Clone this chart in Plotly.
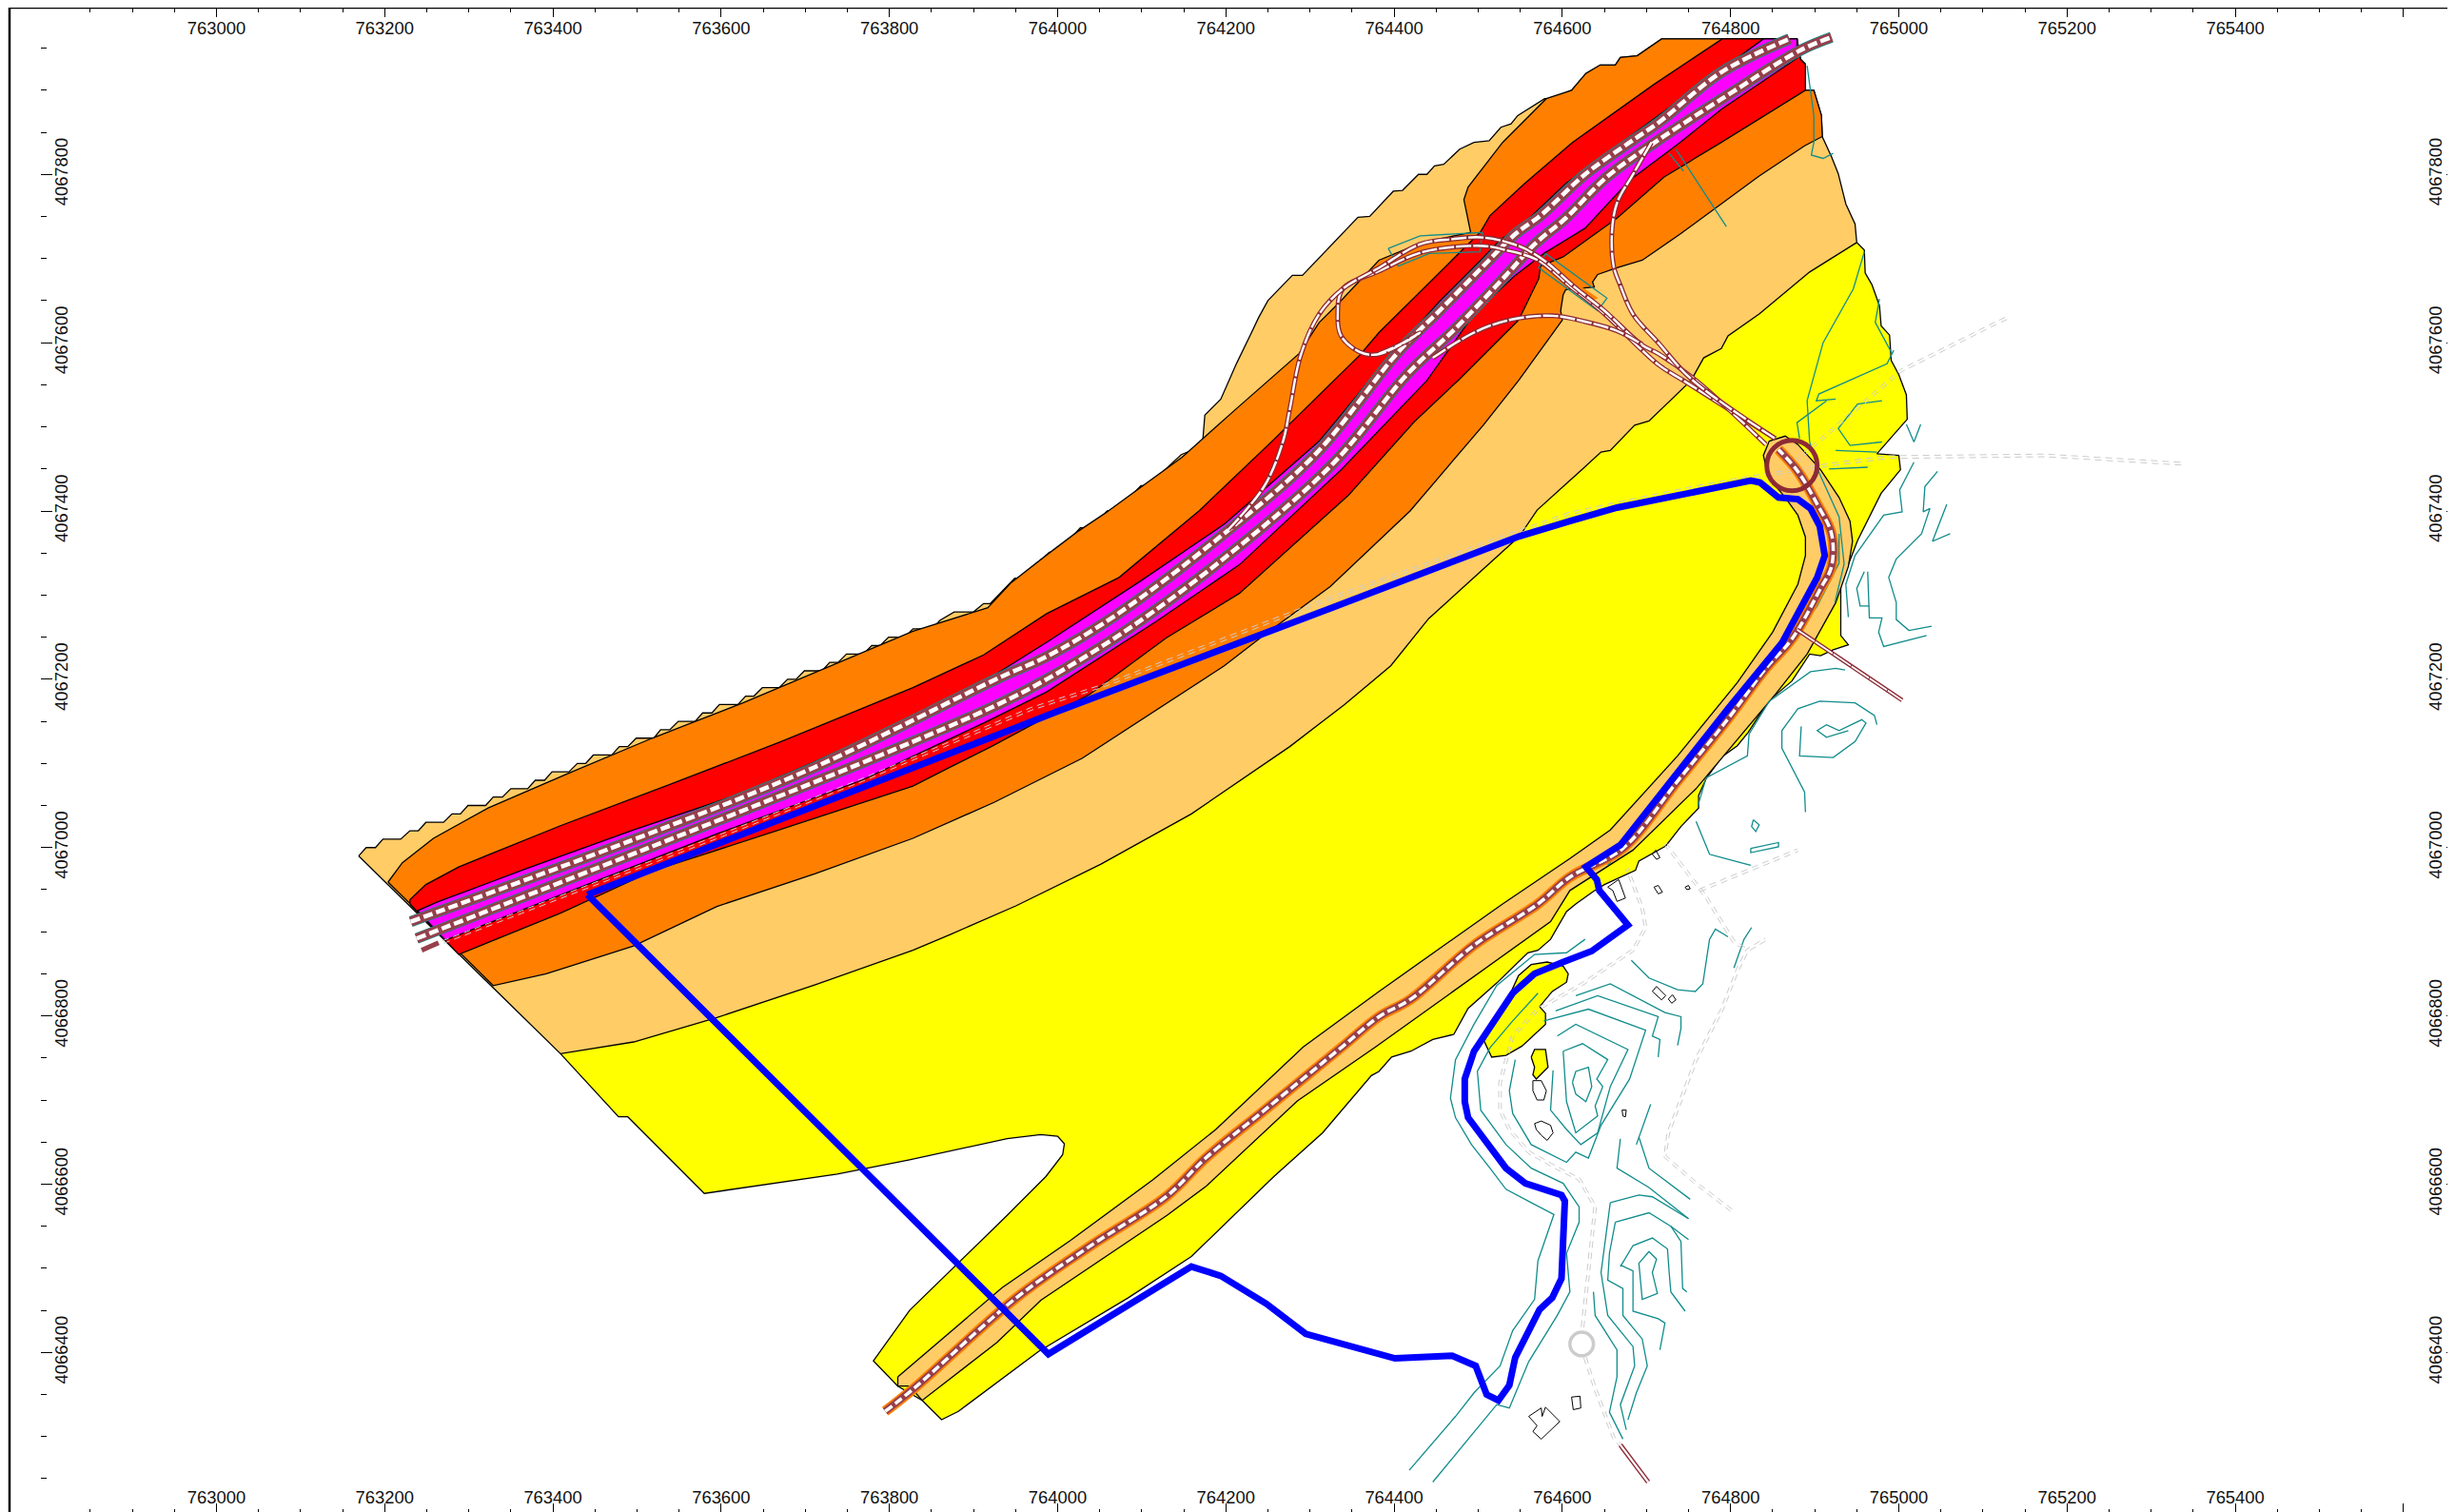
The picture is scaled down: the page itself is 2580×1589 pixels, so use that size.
import numpy as np
import plotly.graph_objects as go

# Survey coordinates are stored as (easting - E0, northing - N0) in metres
E0 = 763000
N0 = 4066000

X_MAJOR = [763000 + 200 * i for i in range(14)]
X_LABELS = [str(v) for v in X_MAJOR[:-1]] + [""]
Y_MAJOR = [4066400 + 200 * i for i in range(8)]
Y_LABELS = [str(v) for v in Y_MAJOR]
X_MINOR = [v for v in range(762850, 765600, 50) if v % 200 != 0]
Y_MINOR = [v for v in range(4066250, 4068000, 50) if v % 200 != 0]

NORTH_EDGE = [(169,990),(178,1000),(189,1000),(198,1010),(219,1010),(230,1020),(240,1020),(249,1030),(270,1030),(280,1040),(290,1040),(299,1050),(320,1050),(329,1060),(340,1060),(350,1070),(370,1070),(379,1080),(390,1080),(399,1090),(419,1090),(429,1100),(439,1100),(448,1110),(470,1110),(479,1120),(489,1120),(499,1130),(520,1130),(528,1140),(539,1140),(549,1150),(569,1150),(578,1160),(589,1160),(598,1170),(620,1170),(629,1180),(639,1180),(649,1190),(669,1190),(679,1200),(689,1200),(699,1210),(720,1210),(729,1220),(739,1220),(749,1230),(769,1230),(779,1240),(789,1240),(799,1250),(818,1250),(828,1260),(851,1260),(860,1270),(877,1280),(900,1280),(912,1290),(920,1290),(949,1320),(960,1320),(990,1351),(1000,1351),(1027,1380),(1039,1380),(1059,1400),(1070,1400),(1099,1430),(1108,1430),(1120,1442),(1147,1467),(1172,1477),(1175,1514),(1194,1533),(1213,1576),(1229,1609),(1239,1630),(1250,1650),(1279,1680),(1291,1680),(1357,1749),(1371,1750),(1399,1780),(1410,1781),(1429,1800),(1439,1800),(1448,1810),(1459,1812),(1478,1830),(1495,1838),(1513,1840),(1527,1856),(1539,1860),(1547,1870),(1579,1890),(1590,1890),(1611,1900),(1628,1920),(1645,1930),(1663,1930),(1669,1939),(1689,1941),(1718,1961)]
EAST_EDGE = [(1879,1961),(1883,1937),(1889,1931),(1889,1900),(1899,1900),(1908,1870),(1909,1845),(1920,1821),(1928,1801),(1937,1765),(1948,1741),(1950,1719)]
BEIGE_SOUTH_EDGE = [(1894,1684),(1834,1634),(1797,1608),(1789,1593),(1768,1582),(1753,1555),(1703,1507),(1686,1502),(1657,1472),(1646,1470),(1623,1449),(1570,1401),(1549,1370),(1441,1272),(1396,1216),(1341,1170),(1276,1120),(1159,1040),(1051,980),(951,931),(873,897),(828,878),(712,837),(595,798),(496,769),(409,755)]

YELLOW_ZONE = [(409,755),(478,680),(489,680),(580,589),(738,612),(824,629),(940,654),(980,659),(1000,657),(1008,648),(1006,635),(986,609),(940,563),(882,507),(824,450),(781,390),(810,360),(839,343),(862,320),(882,330),(977,401),(1084,465),(1159,514),(1257,609),(1315,661),(1373,729),(1382,734),(1397,751),(1420,758),(1446,772),(1471,778),(1488,809),(1522,839),(1559,875),(1571,878),(1586,891),(1605,924),(1616,933),(1637,948),(1650,956),(1687,973),(1691,984),(1723,1002),(1741,1025),(1762,1047),(1762,1062),(1771,1082),(1790,1108),(1808,1121),(1821,1137),(1845,1174),(1873,1198),(1894,1230),(1907,1228),(1922,1235),(1940,1241),(1931,1252),(1931,1313),(1951,1365),(1979,1421),(2002,1449),(2000,1466),(1974,1468),(2010,1509),(2009,1538),(2000,1562),(1991,1579),(1989,1609),(1979,1620),(1977,1644),(1968,1669),(1960,1683),(1959,1710),(1950,1719),(1800,1650),(1400,1300),(800,950)]
YELLOW_ISLAND_A = [(1507,770),(1516,751),(1533,753),(1552,764),(1580,790),(1580,803),(1573,811),(1588,829),(1605,840),(1607,850),(1601,859),(1582,864),(1563,861),(1548,848),(1537,824)]
YELLOW_ISLAND_B = [(1563,751),(1567,760),(1580,760),(1583,739),(1569,725),(1565,730),(1567,739)]
BEIGE_STRIP = [(810,371),(810,360),(824,360),(839,343),(928,412),(980,462),(1130,563),(1176,597),(1285,699),(1378,763),(1586,912),(1609,949),(1684,997),(1759,1070),(1854,1183),(1891,1230),(1925,1291),(1940,1334),(1945,1364),(1942,1388),(1929,1416),(1907,1449),(1880,1479),(1865,1489),(1846,1483),(1839,1466),(1845,1440),(1865,1416),(1880,1395),(1889,1369),(1889,1347),(1880,1313),(1850,1256),(1808,1196),(1737,1109),(1657,1021),(1609,987),(1529,933),(1382,829),(1292,763),(1188,665),(1113,605),(1015,533),(934,477)]

ORANGE_NORTH = [(204,959),(221,982),(258,1011),(323,1047),(418,1088),(518,1130),(626,1172),(712,1208),(828,1257),(917,1285),(945,1315),(986,1347),(1023,1375),(1056,1397),(1097,1427),(1148,1464),(1213,1522),(1287,1587),(1311,1624),(1335,1648),(1382,1698),(1433,1719),(1491,1731),(1483,1770),(1488,1785),(1514,1819),(1529,1838),(1581,1890),(1611,1900),(1628,1920),(1645,1930),(1663,1930),(1669,1939),(1689,1941),(1718,1961)]
ORANGE_EAST = [(1879,1961),(1883,1937),(1889,1931),(1889,1900),(1899,1900),(1908,1870),(1909,1845)]
ORANGE_SOUTH = [(1888,1834),(1834,1798),(1740,1729),(1695,1698),(1665,1689),(1642,1681),(1636,1672),(1638,1666),(1604,1663),(1601,1657),(1598,1638),(1600,1627),(1548,1555),(1506,1502),(1419,1400),(1324,1310),(1246,1253),(1198,1216),(1116,1163),(1029,1106),(925,1054),(873,1031),(828,1011),(712,969),(595,930),(496,883),(392,850),(329,836)]
ORANGE_WEDGE = [(1593,1687),(1642,1653),(1631,1649),(1597,1676)]
RED_ZONE = [(230,933),(230,938),(249,956),(288,977),(409,1026),(539,1075),(669,1125),(828,1190),(912,1229),(987,1278),(1073,1321),(1168,1400),(1255,1483),(1359,1585),(1382,1612),(1472,1702),(1503,1732),(1514,1751),(1555,1789),(1612,1838),(1709,1907),(1790,1961),(1879,1961),(1883,1937),(1889,1931),(1889,1900),(1789,1838),(1721,1797),(1665,1748),(1601,1702),(1574,1691),(1572,1676),(1548,1627),(1476,1555),(1424,1506),(1346,1419),(1216,1302),(1129,1249),(1038,1182),(981,1152),(921,1120),(873,1096),(828,1073),(669,1021),(518,972),(409,922),(288,873)]
MAGENTA_ZONE = [(239,925),(262,935),(366,974),(496,1021),(626,1065),(739,1114),(828,1146),(912,1197),(987,1244),(1099,1317),(1199,1385),(1311,1483),(1389,1577),(1454,1649),(1503,1698),(1527,1723),(1548,1736),(1604,1789),(1665,1834),(1709,1866),(1839,1961),(1879,1961),(1879,1938),(1790,1878),(1740,1838),(1680,1793),(1627,1736),(1578,1706),(1544,1680),(1495,1634),(1439,1555),(1337,1449),(1216,1336),(1116,1268),(987,1185),(912,1148),(767,1080),(594,1016),(421,948),(272,890)]

ROAD_UPPER = [(231,912),(492,1008),(710,1095),(933,1203),(987,1227),(1069,1276),(1194,1370),(1307,1468),(1405,1589),(1454,1638),(1506,1691),(1544,1729),(1574,1751),(1627,1800),(1680,1838),(1715,1862),(1790,1922),(1870,1961)]
ROAD_LOWER = [(238,892),(507,997),(790,1110),(929,1170),(987,1200),(1080,1257),(1207,1351),(1328,1457),(1416,1563),(1472,1616),(1533,1680),(1567,1717),(1604,1748),(1653,1797),(1710,1838),(1790,1890),(1882,1947),(1920,1963)]
ROAD_STUB = [(244,878),(264,887)]
ROAD_SOUTH = [(795,330),(830,358),(951,465),(1038,526),(1130,586),(1176,631),(1246,688),(1338,763),(1382,799),(1420,820),(1495,884),(1571,933),(1609,965),(1672,999),(1737,1079),(1797,1153),(1842,1213),(1873,1248),(1907,1308),(1920,1334),(1920,1373),(1903,1408),(1880,1447),(1857,1473)]
RAMP_LOOP = [(1382,1587),(1405,1597),(1431,1612),(1419,1604),(1380,1586),(1359,1589),(1337,1608),(1333,1634),(1339,1664),(1382,1685),(1435,1708),(1506,1715),(1533,1710),(1571,1698),(1608,1668),(1646,1638),(1714,1574),(1744,1555),(1853,1486)]
RAMP_OUTER = [(1203,1378),(1246,1430),(1268,1483),(1276,1521),(1289,1585),(1311,1634),(1339,1664),(1382,1689),(1431,1717),(1469,1723),(1506,1725),(1548,1715),(1578,1698),(1616,1665),(1650,1638),(1695,1597),(1714,1587),(1759,1555),(1842,1479)]
RAMP_EAST = [(1706,1838),(1684,1800),(1665,1766),(1659,1732),(1661,1691),(1669,1668),(1684,1634),(1714,1600),(1753,1557),(1853,1486)]
RAMP_LINK = [(1446,1582),(1495,1612),(1537,1627),(1589,1632),(1627,1625),(1665,1614),(1695,1598)]
SPUR_EAST = [(1879,1259),(2004,1175)]
SPUR_SOUTH = [(1669,290),(1702,246)]
ROUNDABOUT_MAIN = (1873, 1454, 30)
ROUNDABOUT_GREY = (1623, 410, 14)

PROJECT_BOUNDARY = [(441,944),(998,1161),(1326,1285),(1549,1370),(1609,1388),(1665,1404),(1824,1436),(1835,1434),(1857,1416),(1880,1414),(1895,1403),(1906,1382),(1912,1347),(1903,1321),(1861,1243),(1797,1165),(1669,1003),(1628,977),(1641,962),(1644,949),(1678,908),(1635,877),(1601,864),(1567,850),(1541,827),(1514,785),(1495,758),(1484,725),(1484,698),(1488,679),(1533,619),(1556,601),(1599,587),(1603,580),(1599,488),(1588,465),(1573,451),(1544,394),(1537,361),(1524,343),(1510,350),(1497,384),(1469,396),(1401,393),(1295,422),(1248,458),(1194,491),(1159,502),(989,398),(441,944)]

CONTOURS = [
 [(1418,260),(1473,324),(1495,352),(1526,384),(1541,426),(1567,463),(1571,509),(1590,564),(1563,578),(1533,594),(1514,619),(1492,647),(1473,679),(1467,702),(1473,748),(1495,790),(1522,836),(1567,873),(1605,875),(1627,891)],
 [(1446,246),(1495,306),(1522,338),(1537,334),(1560,389),(1594,444),(1609,472),(1605,518),(1620,555),(1620,573),(1601,601),(1563,619),(1533,647),(1503,688),(1499,734),(1514,762),(1541,794),(1571,827)],
 [(1637,472),(1639,444),(1665,403),(1665,371),(1656,329),(1672,297)],
 [(1657,578),(1646,495),(1654,444),(1684,407),(1686,384),(1669,338),(1676,308)],
 [(1663,555),(1656,518),(1654,486),(1672,476),(1672,444),(1695,416),(1701,384),(1688,352),(1678,320)],
 [(1657,578),(1691,587),(1707,585),(1750,559)],
 [(1663,555),(1703,566),(1729,550),(1750,534)],
 [(1669,502),(1684,527),(1707,536),(1725,523),(1727,495),(1729,472),(1746,449)],
 [(1703,520),(1691,506),(1695,463),(1713,470),(1707,495),(1712,511),(1703,520)],
 [(1669,504),(1684,497),(1684,449),(1714,440),(1722,435),(1716,403)],
 [(1729,550),(1741,532),(1743,476),(1748,472)],
 [(1705,695),(1688,647)],
 [(1691,656),(1703,619),(1752,582)],
 [(1669,654),(1665,619),(1703,596),(1750,559)],
 [(1612,721),(1616,734),(1631,739),(1635,716),(1628,698),(1616,707),(1612,721)],
 [(1601,758),(1624,767),(1654,748),(1641,725),(1648,716),(1639,693),(1642,681),(1616,661),(1605,698),(1601,758)],
 [(1594,776),(1616,790),(1678,760),(1657,716),(1642,661),(1622,647),(1605,665),(1586,688),(1589,735)],
 [(1578,794),(1631,808),(1699,783),(1680,725),(1646,670),(1631,631),(1616,638),(1605,626),(1563,647),(1541,684),(1537,711),(1544,748)],
 [(1592,806),(1642,824),(1714,799),(1707,776),(1716,772),(1714,751)],
 [(1616,824),(1657,838),(1722,804),(1741,799),(1741,785),(1737,765)],
 [(1682,866),(1703,845),(1737,831),(1758,829),(1767,838),(1775,891),(1782,903),(1797,894)],
 [(1804,857),(1816,891),(1825,905)],
 [(1759,1031),(1775,992),(1790,988),(1824,979)],
 [(1761,1049),(1771,1083),(1820,1109),(1822,1135),(1846,1174),(1895,1209),(1925,1213),(1936,1211)],
 [(1889,1042),(1888,1066),(1861,1118),(1861,1139),(1880,1165),(1906,1174),(1948,1172),(1971,1157),(1974,1146)],
 [(1884,1144),(1882,1109),(1922,1107),(1948,1126),(1961,1148),(1956,1152),(1929,1139),(1914,1146),(1903,1139),(1914,1131),(1940,1139)],
 [(1940,1274),(1937,1313),(1948,1347),(1982,1395),(2004,1399),(2001,1425),(2018,1458)],
 [(2046,1447),(2031,1429),(2029,1399),(2037,1403),(2027,1373),(1997,1343),(1988,1321),(1997,1291),(1997,1271),(2012,1258),(2039,1263)],
 [(1959,1328),(1950,1308),(1954,1287),(1965,1287)],
 [(1963,1328),(1965,1273),(1980,1273),(1976,1256),(1982,1239),(2033,1252)],
 [(2057,1408),(2040,1364),(2061,1373)],
 [(1891,1929),(1899,1870),(1899,1838),(1896,1823),(1910,1819),(1922,1825)],
 [(1959,1708),(1946,1664),(1910,1600),(1891,1531),(1894,1482),(1905,1446),(1929,1393),(1935,1337),(1924,1291)],
 [(1977,1652),(1972,1624),(1992,1587)],
 [(1994,1591),(1986,1575),(1905,1539),(1902,1531),(1925,1533)],
 [(1914,1531),(1879,1505),(1882,1486)],
 [(1980,1531),(1951,1527),(1928,1498),(1942,1478),(1980,1482)],
 [(1925,1472),(1974,1470)],
 [(1917,1450),(1963,1452)],
 [(2009,1503),(2018,1482),(2026,1503)],
 [(1393,1712),(1431,1727),(1505,1731),(1502,1708),(1442,1706),(1405,1691),(1393,1712)],
 [(1580,1706),(1653,1653),(1642,1638),(1572,1689),(1580,1706)],
 [(1727,1825),(1744,1804)],
 [(1735,1830),(1795,1738)],
 [(1929,1373),(1929,1338),(1903,1287),(1850,1217),(1759,1100),(1684,1010),(1654,979)],
 [(1827,1033),(1834,1027),(1830,1019),(1825,1025),(1827,1033)],
 [(1824,999),(1857,1006),(1857,1001),(1824,994),(1824,999)],
]

GREY_ROUTES = [
 [(244,878),(594,1012),(767,1080),(883,1129),(969,1165),(1056,1193),(1326,1297),(1609,1397),(1752,1427),(1824,1440),(1918,1455),(1986,1464),(2174,1466),(2339,1456)],
 [(1876,1458),(2003,1567),(2117,1624),(2130,1630)],
 [(1624,430),(1631,495),(1639,573),(1620,606),(1594,619),(1560,638),(1537,665),(1526,688),(1526,721),(1541,776),(1571,808),(1624,838),(1684,878),(1699,905),(1695,928),(1677,975)],
 [(1627,394),(1639,357),(1661,299),(1669,290)],
 [(1801,569),(1759,601),(1722,633),(1726,661),(1759,748),(1790,808),(1808,854),(1820,878),(1842,891)],
 [(1722,1005),(1771,941),(1804,888),(1820,878)],
 [(1763,949),(1880,997)],
]

BUILDINGS = [
 [(1560,324),(1575,334),(1576,324),(1580,335),(1597,318),(1575,297),(1565,306),(1570,313)],
 [(1611,347),(1621,348),(1622,334),(1613,332)],
 [(1567,672),(1575,675),(1586,670),(1589,661),(1582,652),(1575,658),(1569,665)],
 [(1565,723),(1575,723),(1581,711),(1578,700),(1570,700),(1565,711)],
 [(1707,829),(1712,835),(1723,824),(1718,819)],
 [(1726,820),(1731,825),(1735,819),(1730,815)],
 [(1671,688),(1676,688),(1675,680),(1672,681)],
 [(1654,953),(1667,962),(1675,940),(1665,936),(1660,949)],
 [(1709,953),(1714,955),(1719,947),(1714,945)],
 [(1707,992),(1711,997),(1716,988),(1712,986)],
 [(1746,953),(1750,955),(1752,951),(1748,950)],
]

COLOR_YELLOW = "#ffff00"
COLOR_BEIGE = "#ffcc66"
COLOR_ORANGE = "#ff8000"
COLOR_RED = "#ff0000"
COLOR_MAGENTA = "#ff00ff"
COLOR_ROAD = "#96404c"
COLOR_RAMP = "#8c2a35"
COLOR_TEAL = "#118c8c"
COLOR_GREY = "#cccccc"
COLOR_BLUE = "#0000ff"


def xy(pairs):
    a = np.asarray(pairs, dtype=float)
    return a[:, 0] + E0, a[:, 1] + N0


fig = go.Figure()


def poly(pairs, fill, lw=1.3, line="#000000"):
    x, y = xy(list(pairs) + [pairs[0]])
    fig.add_trace(go.Scatter(x=x, y=y, mode="lines", fill="toself", fillcolor=fill,
                             line=dict(color=line, width=lw), hoverinfo="skip", showlegend=False))


def line(pairs, color, width, dash=None, shape="linear"):
    x, y = xy(pairs)
    fig.add_trace(go.Scatter(x=x, y=y, mode="lines",
                             line=dict(color=color, width=width, dash=dash, shape=shape),
                             hoverinfo="skip", showlegend=False))


def road(pairs, base, stripe, under=None, under_w=0, dash="10px,4px", color=COLOR_ROAD):
    if under:
        line(pairs, under, under_w, shape="spline")
    line(pairs, color, base, shape="spline")
    line(pairs, "#ffffff", stripe, dash=dash, shape="spline")


poly(YELLOW_ZONE, COLOR_YELLOW)
poly(YELLOW_ISLAND_A, COLOR_YELLOW)
poly(YELLOW_ISLAND_B, COLOR_YELLOW)
poly(NORTH_EDGE + EAST_EDGE + BEIGE_SOUTH_EDGE, COLOR_BEIGE)
poly(BEIGE_STRIP, COLOR_BEIGE)
poly(ORANGE_NORTH + ORANGE_EAST + ORANGE_SOUTH, COLOR_ORANGE)
poly(RED_ZONE, COLOR_RED)
poly(MAGENTA_ZONE, COLOR_MAGENTA)
poly(ORANGE_WEDGE, COLOR_ORANGE, lw=0.5, line=COLOR_ORANGE)

for c in CONTOURS:
    line(c, COLOR_TEAL, 1.3)

for g in GREY_ROUTES:
    a = np.asarray(g, dtype=float)
    d = np.gradient(a, axis=0)
    n = np.c_[-d[:, 1], d[:, 0]] / np.maximum(np.hypot(d[:, 0], d[:, 1]), 1e-6)[:, None]
    for s in (-1.6, 1.6):
        line(a + s * n, COLOR_GREY, 1.0, dash="7px,5px")

for b in BUILDINGS:
    poly(b, "rgba(255,255,255,0)", lw=1.0)

road(ROAD_SOUTH, 7.5, 3.5, under=COLOR_ORANGE, under_w=11, dash="9px,4px")
road(ROAD_UPPER, 10, 4.5, under=COLOR_TEAL, under_w=11.5)
road(ROAD_LOWER, 10, 4.5, under=COLOR_TEAL, under_w=11.5)
line(ROAD_STUB, COLOR_ROAD, 5)
for r in (RAMP_LOOP, RAMP_OUTER, RAMP_EAST, RAMP_LINK):
    road(r, 5, 2.4, dash="16px,2px", color=COLOR_RAMP)
road(SPUR_EAST, 4.5, 1.8, dash="22px,1px", color=COLOR_RAMP)
line(SPUR_SOUTH, COLOR_RAMP, 5)
line(SPUR_SOUTH, "#ffffff", 2.2)

line(PROJECT_BOUNDARY, COLOR_BLUE, 7)

shapes = []
for (cx, cy, r), col, w in ((ROUNDABOUT_MAIN, COLOR_RAMP, 5), (ROUNDABOUT_GREY, COLOR_GREY, 3.5)):
    shapes.append(dict(type="circle", xref="x", yref="y", x0=E0 + cx - r, x1=E0 + cx + r,
                       y0=N0 + cy - r, y1=N0 + cy + r, line=dict(color=col, width=w)))
shapes.append(dict(type="rect", xref="paper", yref="paper", x0=0, x1=1, y0=0, y1=1,
                   line=dict(color="#000000", width=2.5)))

# Invisible carrier so the top and right axes are drawn
fig.add_trace(go.Scatter(x=[X_MAJOR[0]], y=[Y_MAJOR[0]], xaxis="x2", yaxis="y2", mode="markers",
                         marker=dict(opacity=0), hoverinfo="skip", showlegend=False))

XR = [762754.0, 765664.6]
YR = [4066207.0, 4067998.2]
FONT = dict(family="Liberation Sans, Arial, sans-serif", size=18.4, color="#111111")


def xax(side, maj, mnr, standoff):
    return dict(range=XR, side=side, tickmode="array", tickvals=X_MAJOR, ticktext=X_LABELS,
                ticks="inside", ticklen=maj, tickwidth=1, tickcolor="#000000", tickfont=FONT,
                ticklabelposition="inside", ticklabelstandoff=standoff,
                showgrid=False, zeroline=False, showline=False,
                minor=dict(tickmode="array", tickvals=X_MINOR, ticks="inside", ticklen=mnr,
                           tickwidth=1, tickcolor="#000000", showgrid=False))


def yax(side, maj, mnr, standoff):
    return dict(range=YR, side=side, tickmode="array", tickvals=Y_MAJOR, ticktext=Y_LABELS,
                ticks="inside", ticklen=maj, tickwidth=1, tickcolor="#000000", tickfont=FONT,
                tickangle=-90, ticklabelposition="inside", ticklabelstandoff=standoff,
                showgrid=False, zeroline=False, showline=False,
                minor=dict(tickmode="array", tickvals=Y_MINOR, ticks="inside", ticklen=mnr,
                           tickwidth=1, tickcolor="#000000", showgrid=False))


fig.update_layout(
    width=2580, height=1590,
    margin=dict(l=2, r=5, t=0, b=6, pad=0),
    paper_bgcolor="#ffffff", plot_bgcolor="#ffffff",
    showlegend=False, shapes=shapes,
    xaxis=dict(xax("bottom", 12, 6, -3), anchor="y"),
    xaxis2=dict(xax("top", 10, 5, 6), overlaying="x", anchor="y2"),
    yaxis=dict(yax("left", 12, 6, -5), anchor="free", position=32 / 2573),
    yaxis2=dict(yax("right", 12, 6, 2), overlaying="y", anchor="x2"),
)
fig.write_html("out.html")
